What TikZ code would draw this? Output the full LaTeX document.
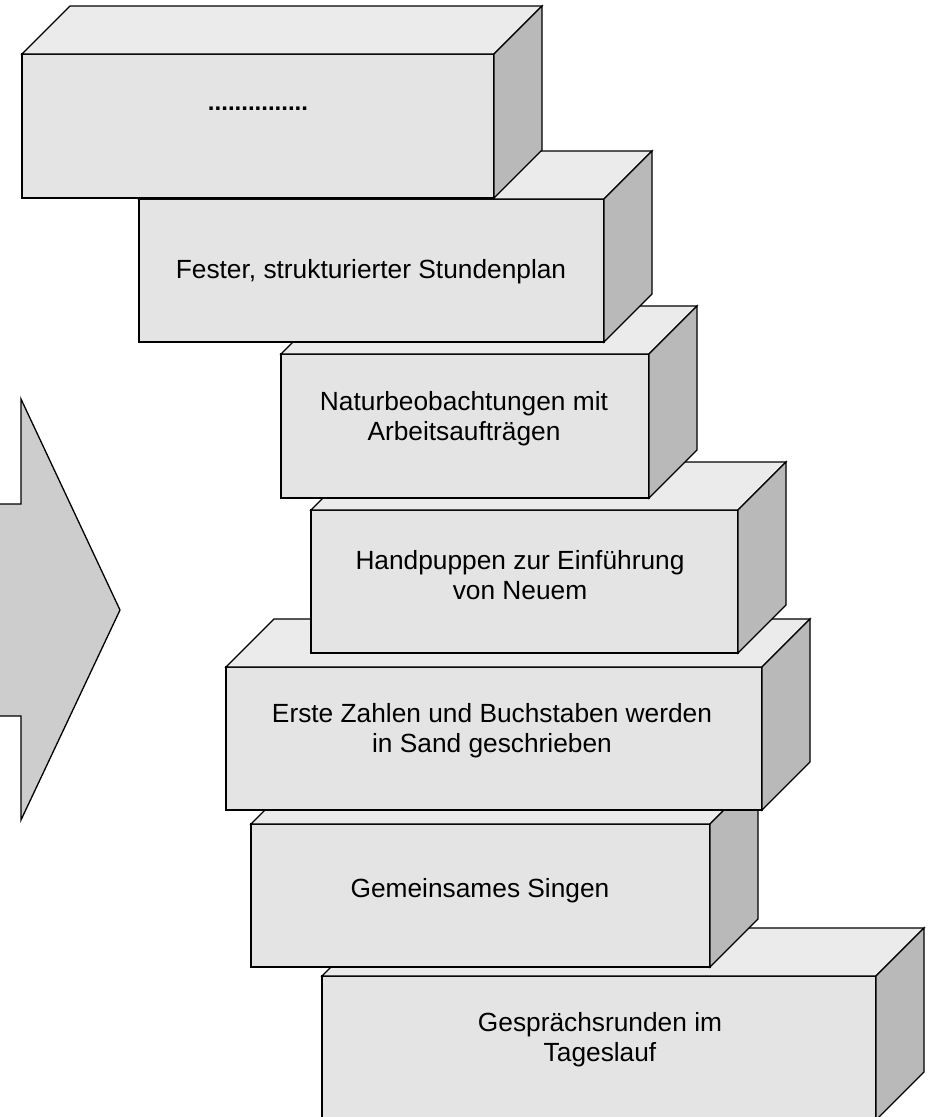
\documentclass[tikz,border=0pt]{standalone}
\usepackage{fontspec}
\setmainfont{Liberation Sans}
\definecolor{frontc}{HTML}{E4E4E4}
\definecolor{topc}{HTML}{EBEBEB}
\definecolor{sidec}{HTML}{B9B9B9}
\definecolor{arrowc}{HTML}{CDCDCD}
\tikzset{
  x=1pt, y=-1pt,
  frontface/.style={draw=black, fill=frontc, line width=1.3pt, inner sep=0pt, outer sep=0pt,
    anchor=north west, rectangle},
  topface/.style={draw=black, fill=topc, line width=1.3pt, line join=miter},
  sideface/.style={draw=black, fill=sidec, line width=1.3pt, line join=miter},
  boxtext/.style={font=\fontsize{26.3}{30}\selectfont, align=center, inner sep=0pt},
  arrowshape/.style={draw=black, fill=arrowc, line width=1.3pt, line join=miter}
}
% #1 name, #2 x1, #3 y1, #4 x2, #5 y2
\newcommand\blockbox[5]{%
  \node[frontface, minimum width={(#4-#2)*1pt}, minimum height={(#5-#3)*1pt}] (#1) at (#2,#3) {};
  \draw[topface] (#1.north west) -- ([shift={(48pt,48pt)}]#1.north west)
    -- ([shift={(48pt,48pt)}]#1.north east) -- (#1.north east) -- cycle;
  \draw[sideface] (#1.north east) -- ([shift={(48pt,48pt)}]#1.north east)
    -- ([shift={(48pt,48pt)}]#1.south east) -- (#1.south east) -- cycle;
}
\begin{document}
\begin{tikzpicture}
\useasboundingbox (0,0) rectangle (933,1117);
\clip (0,0) rectangle (933,1117);
\fill[white] (0,0) rectangle (933,1117);

% arrow
\draw[arrowshape] (-10,504) -- (21,504) -- (21,399) -- (120,610) -- (21,820) -- (21,716) -- (-10,716);

% blocks, from bottom to top
\blockbox{b7}{322}{976}{876}{1120}
\node[boxtext] (t7) at (600,1040) {Gesprächsrunden im\\Tageslauf};

\blockbox{b6}{251}{824}{710}{967}
\node[boxtext, anchor=base] (t6) at (480,897) {Gemeinsames Singen};

\blockbox{b5}{226}{667}{762}{810}
\node[boxtext] (t5) at (492,731) {Erste Zahlen und Buchstaben werden\\in Sand geschrieben};

\blockbox{b4}{311}{510}{738}{653}
\node[boxtext] (t4) at (520,575) {Handpuppen zur Einführung\\von Neuem};

\blockbox{b3}{281}{354}{649}{498}
\node[boxtext] (t3) at (464,419) {Naturbeobachtungen mit\\Arbeitsaufträgen};

\blockbox{b2}{139}{199}{604}{342}
\node[boxtext, anchor=base] (t2) at (371,278) {Fester, strukturierter Stundenplan};

\blockbox{b1}{22}{54}{494}{198}
\node[boxtext, anchor=base, font=\fontsize{24}{30}\selectfont\bfseries] (t1) at (258,110) {...............};
\end{tikzpicture}
\end{document}
